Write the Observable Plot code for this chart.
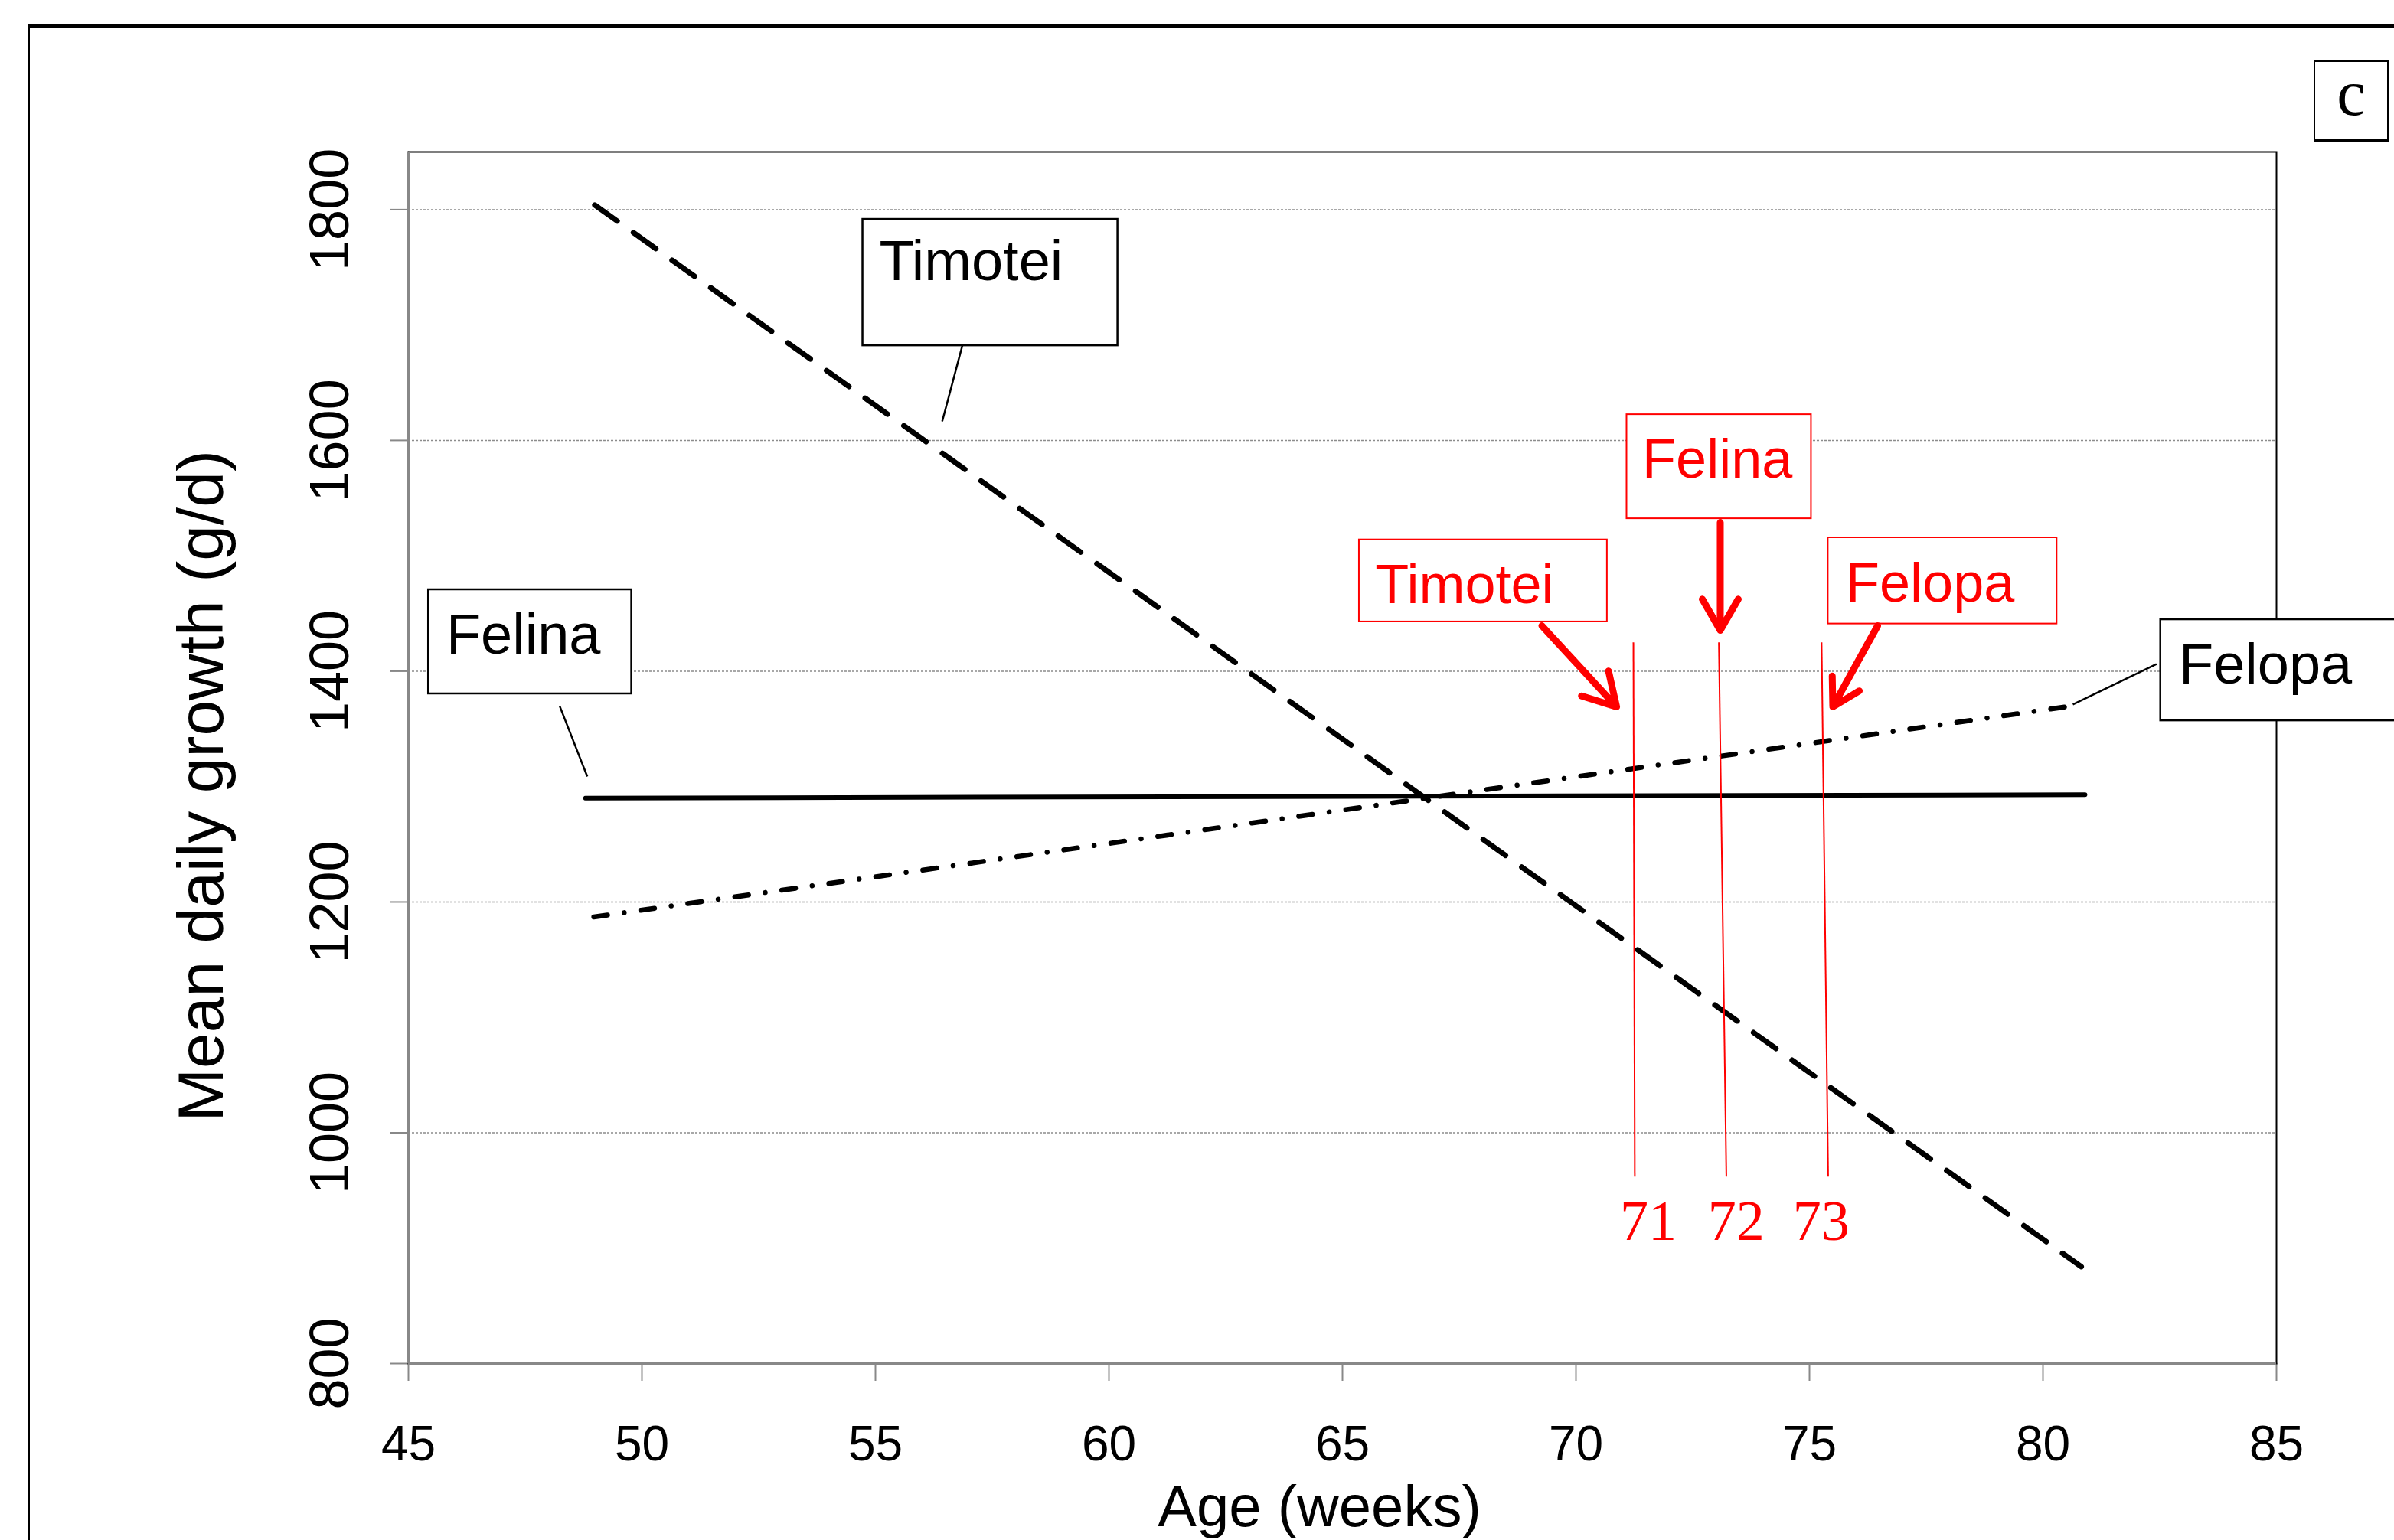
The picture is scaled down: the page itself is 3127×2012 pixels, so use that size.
<!DOCTYPE html>
<html><head><meta charset="utf-8">
<script src="https://cdn.jsdelivr.net/npm/d3@7"></script>
<script src="https://cdn.jsdelivr.net/npm/@observablehq/plot@0.6"></script>
<style>
html,body{margin:0;padding:0;background:#fff;overflow:hidden;width:3127px;height:2012px;}
#frame{position:absolute;left:37px;top:32px;width:3100px;height:2000px;border-top:4px solid #000;border-left:2px solid #000;}
#tag{position:absolute;left:3022px;top:78px;width:94px;height:101px;border:2px solid #000;border-top-width:3px;border-bottom-width:3px;}
#tagc{position:absolute;left:3022px;top:80px;width:98px;text-align:center;font-family:"Liberation Serif",serif;font-size:84px;line-height:84px;}
#chart{position:absolute;left:0;top:0;}
</style></head><body>
<div id="frame"></div>
<div id="tag"></div>
<div id="tagc">c</div>
<div id="chart"></div>
<script>
// ---- data ----
const series = ["Timotei", "Felina", "Felopa"];
const ageStart = [48.99, 48.79, 48.97];
const ageEnd = [80.82, 80.9, 80.64];
const growthStart = [1804, 1290, 1187];
const growthEnd = [884, 1293, 1370];

const xTicks = [45, 50, 55, 60, 65, 70, 75, 80, 85];
const yTicks = [800, 1000, 1200, 1400, 1600, 1800];
const gridLevels = [1000, 1200, 1400, 1600, 1800];

// black series labels (annotation anchors in data units)
const labelNames = ["Timotei", "Felina", "Felopa"];
const labelBoxX1 = [54.73, 45.43, 82.52];
const labelBoxX2 = [60.19, 49.78, 88.9];
const labelBoxTop = [1791.6, 1470.6, 1444.7];
const labelBoxBottom = [1682.1, 1380.4, 1357.1];
const labelTextX = [55.08, 45.81, 82.91];
const labelTextY = [1738.6, 1415.5, 1389.6];
const leaderX1 = [56.86, 48.24, 82.43];
const leaderY1 = [1682.1, 1369.7, 1406.2];
const leaderX2 = [56.43, 48.83, 80.64];
const leaderY2 = [1616.5, 1308.7, 1371.1];

// red optimum-age annotations
const optimumNames = ["Timotei", "Felina", "Felopa"];
const optimumLabels = ["71", "72", "73"];
const cutTopX = [71.23, 73.06, 75.26];
const cutBottomX = [71.26, 73.22, 75.40];
const cutTop = 1425;
const cutBottom = 962;
const cutLabelX = [71.55, 73.43, 75.25];
const cutLabelY = 907;
const redBoxX1 = [65.36, 71.09, 75.40];
const redBoxX2 = [70.67, 75.04, 80.30];
const redBoxTop = [1513.9, 1622.4, 1515.7];
const redBoxBottom = [1442.8, 1532.2, 1441.0];
const redTextX = [65.70, 71.42, 75.78];
const redTextY = [1459.3, 1568, 1460.6];
const arrowX1 = [69.27, 73.09, 76.46];
const arrowY1 = [1439.4, 1528.9, 1439.4];
const arrowX2 = [70.87, 73.09, 75.50];
const arrowY2 = [1369.1, 1435.4, 1369.1];

// ---- build ----
const pts = [];
series.forEach((s, i) => {
  pts.push({series: s, age: ageStart[i], growth: growthStart[i]});
  pts.push({series: s, age: ageEnd[i], growth: growthEnd[i]});
});
const idx = [0, 1, 2];
const font = "Liberation Sans, Arial, sans-serif";

const chart = Plot.plot({
  width: 3127, height: 2012,
  marginLeft: 533, marginRight: 154, marginTop: 198, marginBottom: 231,
  style: {background: "transparent", color: "#888", fontFamily: font, overflow: "hidden", maxWidth: "none", strokeWidth: 2},
  x: {domain: [45, 85], ticks: xTicks, tickSize: 23, tickFormat: () => "", label: null, line: true},
  y: {domain: [800, 1850], ticks: yTicks, tickSize: 23, tickFormat: () => "", label: null, line: true},
  marks: [
    Plot.ruleY(gridLevels, {stroke: "#8c8c8c", strokeWidth: 1.5, strokeDasharray: "3,2"}),
    Plot.frame({stroke: "black", strokeWidth: 2}),
    Plot.ruleX([45], {stroke: "#888", strokeWidth: 3}),
    Plot.ruleY([800], {stroke: "#888", strokeWidth: 3}),
    // series lines
    Plot.line(pts.filter(d => d.series === "Felopa"), {x: "age", y: "growth", stroke: "black", strokeWidth: 6.5, strokeDasharray: "18,22,0.01,22", strokeLinecap: "round"}),
    Plot.line(pts.filter(d => d.series === "Timotei"), {x: "age", y: "growth", stroke: "black", strokeWidth: 7, strokeDasharray: "36,26", strokeLinecap: "round"}),
    Plot.line(pts.filter(d => d.series === "Felina"), {x: "age", y: "growth", stroke: "black", strokeWidth: 6}),
    // red cut-off lines
    Plot.link(idx, {x1: i => cutTopX[i], y1: () => cutTop, x2: i => cutBottomX[i], y2: () => cutBottom, stroke: "red", strokeWidth: 2}),
    Plot.text(idx, {x: i => cutLabelX[i], y: () => cutLabelY, text: i => optimumLabels[i], fill: "red", fontSize: 74, fontFamily: "Liberation Serif, serif", textAnchor: "middle", lineAnchor: "bottom"}),
    // leaders and black labels
    Plot.link(idx, {x1: i => leaderX1[i], y1: i => leaderY1[i], x2: i => leaderX2[i], y2: i => leaderY2[i], stroke: "black", strokeWidth: 2.5}),
    Plot.rect(idx, {x1: i => labelBoxX1[i], x2: i => labelBoxX2[i], y1: i => labelBoxBottom[i], y2: i => labelBoxTop[i], fill: "white", stroke: "black", strokeWidth: 2.5}),
    Plot.text(idx, {x: i => labelTextX[i], y: i => labelTextY[i], text: i => labelNames[i], fill: "black", fontSize: 74, textAnchor: "start", lineAnchor: "bottom"}),
    // red labels
    Plot.rect(idx, {x1: i => redBoxX1[i], x2: i => redBoxX2[i], y1: i => redBoxBottom[i], y2: i => redBoxTop[i], fill: "white", stroke: "red", strokeWidth: 2}),
    Plot.text(idx, {x: i => redTextX[i], y: i => redTextY[i], text: i => optimumNames[i], fill: "red", fontSize: 72, textAnchor: "start", lineAnchor: "bottom"}),
    Plot.arrow(idx, {x1: i => arrowX1[i], y1: i => arrowY1[i], x2: i => arrowX2[i], y2: i => arrowY2[i], stroke: "red", strokeWidth: 9}),
    // tick labels
    Plot.text(xTicks, {x: d => d, text: d => String(d), frameAnchor: "bottom", dy: 126, fill: "black", fontSize: 64, textAnchor: "middle", lineAnchor: "bottom"}),
    Plot.text(yTicks, {y: d => d, text: d => String(d), frameAnchor: "left", dx: -79, rotate: -90, fill: "black", fontSize: 72, textAnchor: "middle", lineAnchor: "bottom"}),
    // axis titles
    Plot.text(["Age (weeks)"], {text: d => d, frameAnchor: "bottom", dx: -30, dy: 212, fill: "black", fontSize: 76, textAnchor: "middle", lineAnchor: "bottom"}),
    Plot.text(["Mean daily growth (g/d)"], {text: d => d, frameAnchor: "left", dx: -243, dy: 37, rotate: -90, fill: "black", fontSize: 84, textAnchor: "middle", lineAnchor: "bottom"})
  ]
});
document.getElementById("chart").appendChild(chart);
</script></body></html>
